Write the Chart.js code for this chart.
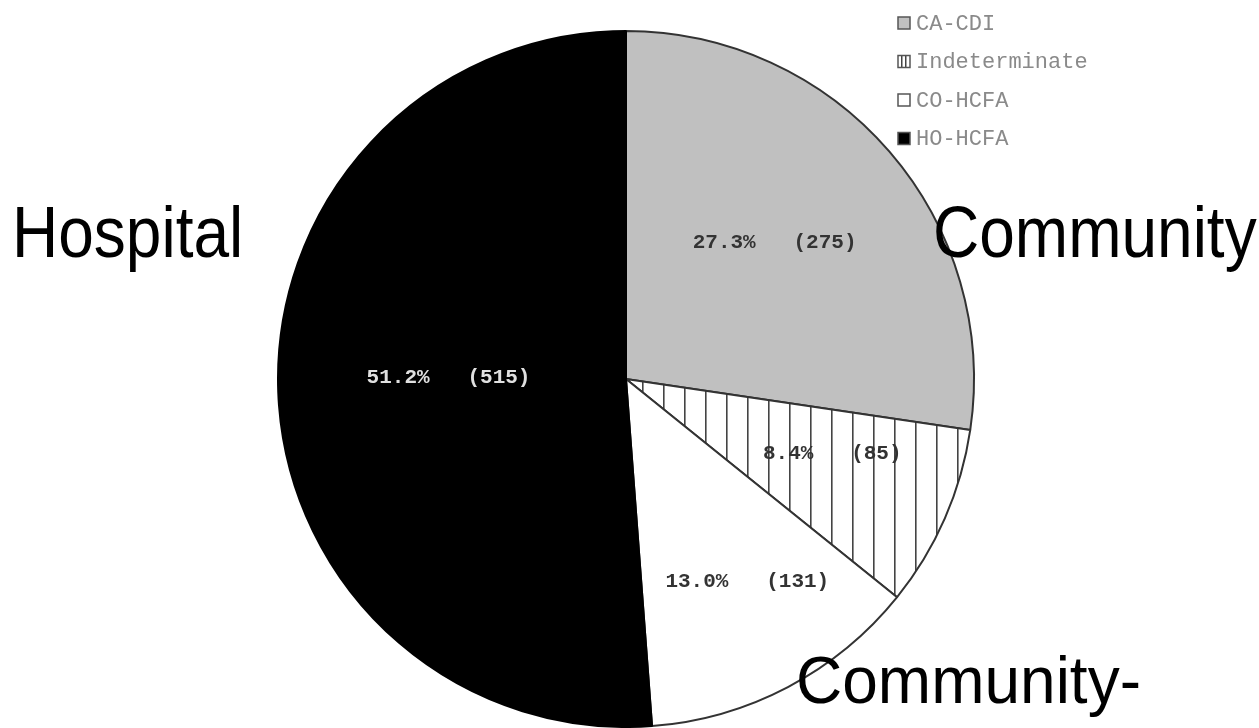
<!DOCTYPE html>
<html>
<head>
<meta charset="utf-8">
<title>CDI cases by category</title>
<script src="https://cdn.jsdelivr.net/npm/chart.js@4.4.1/dist/chart.umd.min.js"></script>
<style>
    body { margin: 0; background: #fff; }
    #cdiChart { display: block; }
</style>
</head>
<body>
<canvas id="cdiChart" width="1259" height="728"></canvas>
<script>
const categories = ['CA-CDI', 'Indeterminate', 'CO-HCFA', 'HO-HCFA']
const caseCounts = [275, 85, 131, 515]

// big grouping captions drawn over the pie
const groupLabels = ['Hospital', 'Community', 'Community-']

// vertical hatch fill for the indeterminate slice
function makeHatch(step, lineWidth, offset) {
    const c = document.createElement('canvas')
    c.width = step
    c.height = 4
    const g = c.getContext('2d')
    g.fillStyle = '#fff'
    g.fillRect(0, 0, step, 4)
    g.fillStyle = '#444'
    g.fillRect(offset, 0, lineWidth, 4)
    return g.createPattern(c, 'repeat')
}

const ctx = document.getElementById('cdiChart').getContext('2d')
const sliceColors = ['#c0c0c0', makeHatch(21, 1.6, 12), '#ffffff', '#000000']

const totalCases = caseCounts.reduce((a, b) => a + b, 0)

const sliceLabels = {
    id: 'sliceLabels',
    afterDatasetsDraw(chart, args, opts) {
        const c = chart.ctx
        const arcs = chart.getDatasetMeta(0).data
        c.save()
        c.font = 'bold 21px "Liberation Mono", monospace'
        c.textAlign = 'center'
        c.textBaseline = 'middle'
        arcs.forEach((arc, i) => {
            const p = arc.getProps(['x', 'y', 'startAngle', 'endAngle', 'outerRadius'], true)
            const place = opts.place[i]
            const ang = (p.startAngle + p.endAngle) / 2 + place[1] * Math.PI / 180
            const r = p.outerRadius * place[0]
            const value = chart.data.datasets[0].data[i]
            const pct = (value / totalCases * 100).toFixed(1)
            c.fillStyle = i === 3 ? '#e0e0e0' : '#333'
            c.fillText(pct + '%   (' + value + ')', p.x + r * Math.cos(ang), p.y + r * Math.sin(ang))
        })
        c.restore()
    }
}

const boxLegend = {
    id: 'boxLegend',
    afterDraw(chart, args, opts) {
        const c = chart.ctx
        c.save()
        c.font = '22px "Liberation Mono", monospace'
        c.textBaseline = 'middle'
        chart.data.labels.forEach((label, i) => {
            const y = opts.top + i * opts.gap
            const x = opts.left
            c.fillStyle = i === 1 ? '#fff' : chart.data.datasets[0].backgroundColor[i]
            c.fillRect(x, y - 6, 12, 12)
            if (i === 1) {
                c.fillStyle = '#444'
                c.fillRect(x + 3, y - 6, 1.5, 12)
                c.fillRect(x + 7, y - 6, 1.5, 12)
            }
            c.strokeStyle = '#555'
            c.lineWidth = 1.5
            c.strokeRect(x, y - 6, 12, 12)
            c.fillStyle = '#8a8a8a'
            c.fillText(label, x + 18, y + 1)
        })
        c.restore()
    }
}

const groupCaptions = {
    id: 'groupCaptions',
    afterDraw(chart, args, opts) {
        const c = chart.ctx
        c.save()
        c.fillStyle = '#000'
        c.font = '64px "Liberation Sans", Arial, sans-serif'
        c.textBaseline = 'alphabetic'
        opts.spots.forEach((s, i) => {
            c.save()
            c.translate(s[0], s[1])
            c.scale(1, s[2])
            c.fillText(groupLabels[i], 0, 0)
            c.restore()
        })
        c.restore()
    }
}

const cdiChart = new Chart(ctx, {
    type: 'pie',
    data: {
        labels: categories,
        datasets: [{
            data: caseCounts,
            backgroundColor: sliceColors,
            borderColor: ['#333', '#333', '#333', '#000'],
            borderWidth: 2
        }]
    },
    options: {
        responsive: false,
        animation: false,
        layout: { padding: { top: 30, bottom: 0, left: 270, right: 277 } },
        plugins: {
            legend: { display: false },
            tooltip: { enabled: false },
            sliceLabels: { place: [[0.58, -1.8], [0.63, -3.8], [0.68, -3.1], [0.51, 2.5]] },
            boxLegend: { left: 898, top: 23, gap: 38.5 },
            groupCaptions: { spots: [[12, 257, 1.12], [933, 257, 1.12], [796, 703, 1.05]] }
        }
    },
    plugins: [sliceLabels, boxLegend, groupCaptions]
})
</script>
</body>
</html>
